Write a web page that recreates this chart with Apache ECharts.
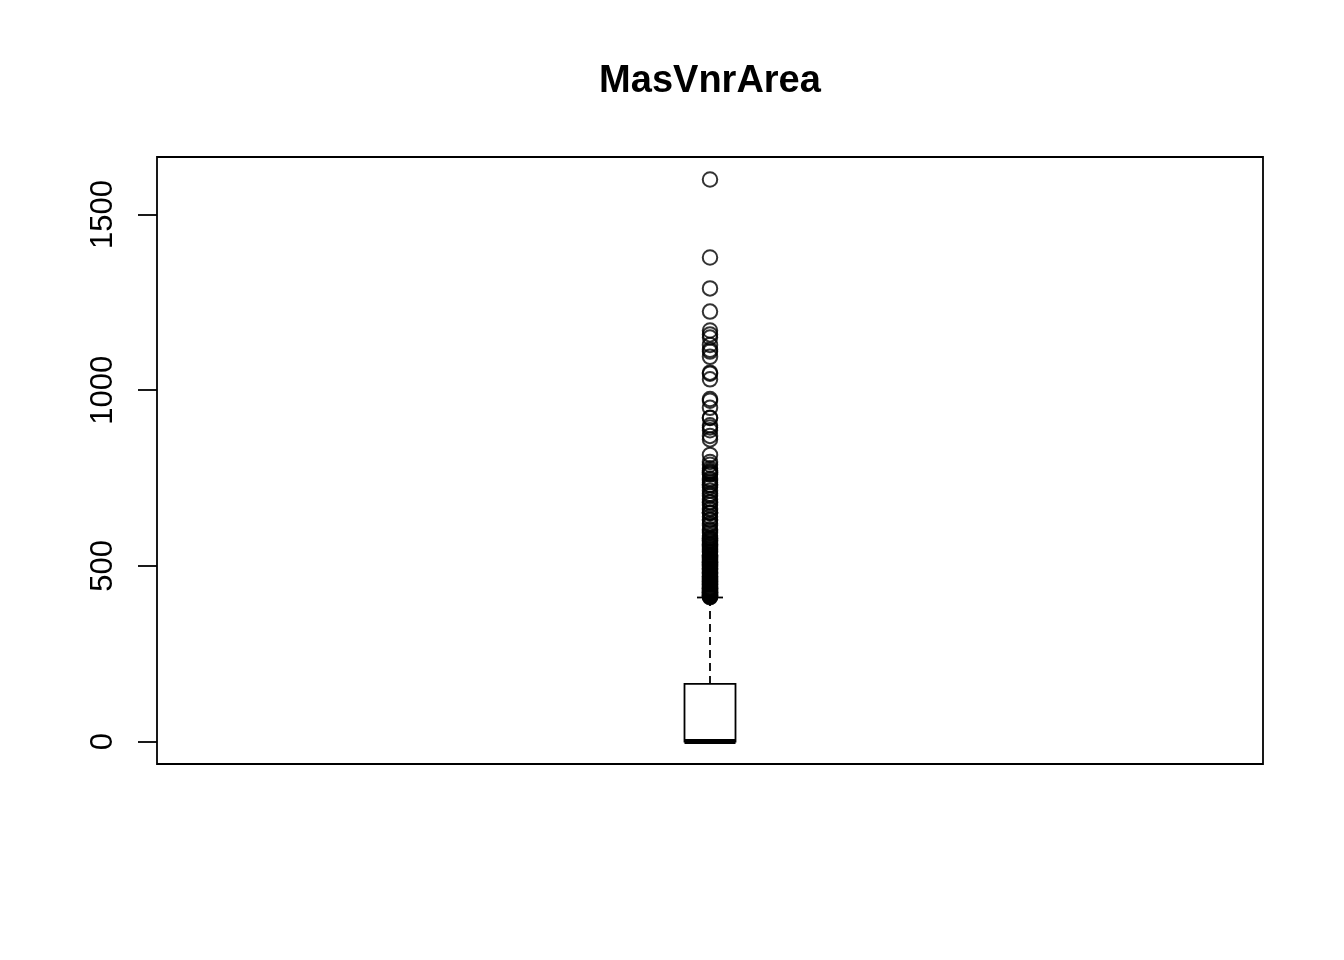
<!DOCTYPE html>
<html>
<head>
<meta charset="utf-8">
<script src="https://cdn.jsdelivr.net/npm/echarts@6/dist/echarts.min.js"></script>
<style>
html,body{margin:0;padding:0;background:#fff;}
#chart{width:1344px;height:960px;}
</style>
</head>
<body>
<div id="chart"></div>
<script>
// ---- data ----
const chartTitle = 'MasVnrArea';
const categories = ['MasVnrArea'];
// [lower whisker, Q1, median, Q3, upper whisker]
const boxStats = [0, 0, 0, 164, 410];
const outliers = [
  1600, 1378, 1290, 1224, 1170, 1159, 1150, 1129, 1115, 1110, 1095,
  1050, 1047, 1031, 975, 970, 950, 922, 921, 900, 894, 886, 870, 860,
  816, 796, 788, 778, 772, 768, 766, 762, 760, 748, 744, 738, 731, 730,
  724, 714, 705, 700, 690, 682, 680, 673, 664, 660, 652, 651, 650, 640,
  632, 630, 621, 616, 604, 600, 594, 586, 580, 578, 576, 572, 571, 567,
  562, 560, 557, 554, 550, 547, 543, 541, 538, 532, 530, 528, 526, 523,
  520, 518, 515, 513, 511, 510, 508, 506, 504, 502, 500, 498, 495, 493,
  491, 490, 487, 484, 481, 480, 479, 476, 472, 470, 468, 466, 464, 462,
  460, 458, 456, 454, 452, 450, 448, 447, 445, 442, 440, 438, 436, 435,
  434, 432, 430, 428, 426, 425, 424, 423, 421, 420, 418, 416, 415, 414,
  412, 411
];
const yTicks = [0, 500, 1000, 1500];
const yMin = -64, yMax = 1664;

const chart = echarts.init(document.getElementById('chart'));
const FONT = 'Liberation Sans, Arial, sans-serif';

chart.setOption({
  backgroundColor: '#fff',
  animation: false,
  title: {
    text: chartTitle,
    left: 710,
    textAlign: 'center',
    top: 63,
    padding: 0,
    textStyle: { fontFamily: FONT, fontSize: 38, fontWeight: 'bold', color: '#000' }
  },
  grid: {
    left: 157, right: 81, top: 157, bottom: 196,
    show: true, borderColor: '#000', borderWidth: 1.8, backgroundColor: 'transparent'
  },
  xAxis: {
    type: 'category',
    data: categories,
    axisLine: { show: false },
    axisTick: { show: false },
    axisLabel: { show: false },
    splitLine: { show: false }
  },
  yAxis: {
    type: 'value',
    min: yMin, max: yMax,
    axisLine: { show: false },
    splitLine: { show: false },
    axisTick: {
      show: true, length: 19, customValues: yTicks,
      lineStyle: { color: '#000', width: 1.8 }
    },
    axisLabel: {
      show: true, customValues: yTicks, rotate: 90, margin: 38,
      formatter: v => String(v),
      fontFamily: FONT, fontSize: 31, color: '#000'
    }
  },
  series: [
    {
      type: 'custom',
      data: [[0].concat(boxStats)],
      encode: { x: 0, y: [1, 2, 3, 4, 5] },
      renderItem: function (params, api) {
        const x = api.value(0);
        const pLow = api.coord([x, api.value(1)]);
        const pQ1 = api.coord([x, api.value(2)]);
        const pMed = api.coord([x, api.value(3)]);
        const pQ3 = api.coord([x, api.value(4)]);
        const pHigh = api.coord([x, api.value(5)]);
        const cx = pQ1[0];
        const hw = 25.5, cap = 13;
        const black = { stroke: '#000', lineWidth: 1.8, fill: null };
        return {
          type: 'group',
          children: [
            { type: 'rect', shape: { x: cx - hw, y: pQ3[1], width: hw * 2, height: pQ1[1] - pQ3[1] },
              style: { stroke: '#000', lineWidth: 1.8, fill: '#fff' } },
            { type: 'line', shape: { x1: cx, y1: pQ3[1], x2: cx, y2: pHigh[1] },
              style: Object.assign({ lineDash: [8, 5] }, black) },
            { type: 'line', shape: { x1: cx, y1: pQ1[1], x2: cx, y2: pLow[1] },
              style: Object.assign({ lineDash: [8, 5] }, black) },
            { type: 'line', shape: { x1: cx - cap, y1: pHigh[1], x2: cx + cap, y2: pHigh[1] }, style: black },
            { type: 'line', shape: { x1: cx - cap, y1: pLow[1], x2: cx + cap, y2: pLow[1] }, style: black },
            { type: 'line', shape: { x1: cx - hw, y1: pMed[1], x2: cx + hw, y2: pMed[1] },
              style: { stroke: '#000', lineWidth: 5 } }
          ]
        };
      },
      z: 2
    },
    {
      type: 'scatter',
      data: outliers.map(v => [categories[0], v]),
      symbol: 'circle',
      symbolSize: 14.5,
      itemStyle: { color: 'transparent', borderColor: '#000', borderWidth: 2 },
      z: 3
    }
  ]
});
</script>
</body>
</html>
